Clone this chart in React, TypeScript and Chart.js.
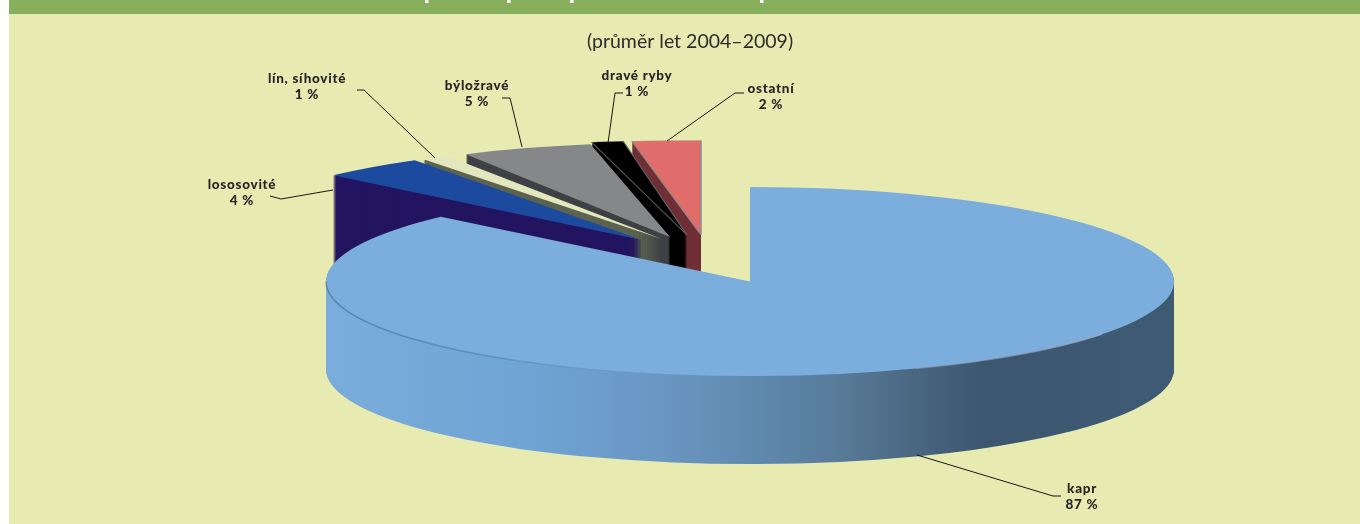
import React, { useEffect, useRef } from "react";
import { Chart, registerables } from "chart.js";

Chart.register(...registerables);

const categories = ["kapr", "lososovité", "lín, síhovité", "býložravé", "dravé ryby", "ostatní"];
const shares = [87, 4, 1, 5, 1, 2];
const subtitle = "(průměr let 2004–2009)";
const topColors = ["#7BAEDC", "#1C4A9F", "#E3E7BE", "#868789", "#000000", "#E06C6C"];
const sideColors = ["#7BAEDC", "#231560", "#5D6350", "#3F4145", "#000000", "#6F2F35"];

// projection of the pie: an ellipse, with its depth, and where each exploded slice's tip sits
const RX = 424;
const RY = 94.5;
const DEPTH = 88;
const CENTER = { x: 750, y: 281.5 };
const tips = [
  { x: 750, y: 281.5, sx: 1 },
  { x: 642, y: 240, sx: 1 },
  { x: 662, y: 239, sx: 1.05 },
  { x: 670, y: 237, sx: 1 },
  { x: 687, y: 235, sx: 1.2 },
  { x: 701, y: 235, sx: 1.3 },
];
const sideStops: [number, string][] = [
  [326, "#7AADDC"],
  [540, "#6FA3D3"],
  [653, "#6A97C4"],
  [764, "#5F88AC"],
  [848, "#567996"],
  [931, "#47627C"],
  [987, "#3C5670"],
  [1175, "#3F5B74"],
];
const labelPlaces = [
  { x: 1082, y: 489 },
  { x: 242, y: 185 },
  { x: 307, y: 79 },
  { x: 477, y: 86 },
  { x: 637, y: 76 },
  { x: 771, y: 89 },
];
const leaders = [
  [[917, 455], [1053, 496], [1061, 496]],
  [[270, 196], [281, 199], [333, 190]],
  [[357, 90], [364, 90], [435, 158]],
  [[502, 98], [510, 98], [522, 147]],
  [[623, 93], [615, 93], [608, 143]],
  [[744, 93], [735, 93], [667, 141]],
];
const clippedTitleMarks = [425, 507, 570, 760];

const pie3d = {
  id: "pie3d",
  beforeDatasetsDraw(chart: any) {
    const ctx = chart.ctx;
    const arcs = chart.getDatasetMeta(0).data;
    for (let i = arcs.length - 1; i >= 0; i--) {
      const arc = arcs[i];
      const tip = tips[i];
      const R = arc.outerRadius;
      const kx = (RX * tip.sx) / R;
      const ky = RY / R;
      const place = (dy: number) => {
        ctx.setTransform(kx, 0, 0, ky, tip.x - arc.x * kx, tip.y + dy - arc.y * ky);
      };
      const base = arc.options;
      let side: any = sideColors[i];
      if (i === 0) {
        const toLocal = (x: number) => (x - tip.x) / kx + arc.x;
        side = ctx.createLinearGradient(toLocal(326), 0, toLocal(1175), 0);
        sideStops.forEach(([x, c]) => side.addColorStop((x - 326) / (1175 - 326), c));
      }
      ctx.save();
      const sideOpts = Object.create(base);
      sideOpts.backgroundColor = side;
      sideOpts.borderWidth = 0;
      arc.options = sideOpts;
      for (let d = DEPTH; d >= 1; d--) {
        place(d);
        arc.draw(ctx);
      }
      arc.options = base;
      place(0);
      arc.draw(ctx);
      ctx.restore();
    }
    ctx.setTransform(1, 0, 0, 1, 0, 0);
    // faint seam where the top face meets the side at the left
    const seam = ctx.createLinearGradient(326, 0, 620, 0);
    seam.addColorStop(0, "rgba(50,80,110,0.45)");
    seam.addColorStop(0.5, "rgba(50,90,130,0.35)");
    seam.addColorStop(1, "rgba(50,90,130,0)");
    ctx.save();
    ctx.strokeStyle = seam;
    ctx.lineWidth = 1.5;
    ctx.beginPath();
    ctx.ellipse(CENTER.x, CENTER.y, RX, RY, 0, Math.PI, Math.PI * 0.58, true);
    ctx.stroke();
    // pale glint along the front edge on the right
    const glint = ctx.createLinearGradient(914, 0, 1103, 0);
    glint.addColorStop(0, "rgba(150,160,185,0.5)");
    glint.addColorStop(1, "rgba(170,170,190,0.8)");
    ctx.strokeStyle = glint;
    ctx.beginPath();
    ctx.ellipse(CENTER.x, CENTER.y, RX, RY, 0, (67 * Math.PI) / 180, (34 * Math.PI) / 180, true);
    ctx.stroke();
    ctx.restore();
    return false;
  },
  afterDraw(chart: any) {
    const ctx = chart.ctx;
    ctx.save();
    ctx.fillStyle = "#FFFFFF";
    clippedTitleMarks.forEach((x) => ctx.fillRect(x, 0, 3.5, 3));
    ctx.strokeStyle = "#161616";
    ctx.lineWidth = 1;
    leaders.forEach((pts) => {
      ctx.beginPath();
      pts.forEach(([x, y], k) => (k ? ctx.lineTo(x, y) : ctx.moveTo(x, y)));
      ctx.stroke();
    });
    ctx.fillStyle = "#262626";
    ctx.font = "900 13.5px Lato";
    ctx.textAlign = "center";
    ctx.textBaseline = "middle";
    if ("letterSpacing" in ctx) ctx.letterSpacing = "0.7px";
    categories.forEach((name, i) => {
      const p = labelPlaces[i];
      ctx.fillText(name, p.x, p.y);
      ctx.fillText(`${shares[i]} %`, p.x, p.y + 16);
    });
    ctx.restore();
  },
};

export default function App() {
  const ref = useRef<HTMLCanvasElement>(null);
  useEffect(() => {
    const chart = new Chart(ref.current!, {
      type: "pie",
      data: {
        labels: categories,
        datasets: [
          {
            data: shares,
            backgroundColor: topColors,
            borderWidth: [0, 0, 0, 0, 0.6, 0.6],
            borderColor: ["#7BAEDC", "#1C4A9F", "#E3E7BE", "#868789", "#666666", "#8A8A8A"],
          },
        ],
      },
      options: {
        responsive: false,
        animation: false,
        rotation: 0,
        layout: { padding: { left: 20 } },
        plugins: {
          legend: { display: false },
          tooltip: { enabled: false },
          title: {
            display: true,
            text: subtitle,
            fullSize: false,
            color: "#2B2B2B",
            font: { family: "Lato", size: 19.5, weight: "normal" },
            padding: { top: 30, bottom: 10 },
          },
        },
      },
      plugins: [pie3d],
    } as any);
    return () => chart.destroy();
  }, []);
  return (
    <div style={{ position: "relative", width: 1360, height: 524, overflow: "hidden", background: "#FFFFFF" }}>
      <style>{"html,body{margin:0;padding:0;background:#fff}"}</style>
      <div style={{ position: "absolute", left: 9, right: 0, top: 0, bottom: 0, background: "#E8EBB1" }} />
      <div style={{ position: "absolute", left: 9, right: 0, top: 0, height: 14, background: "#88AF5C" }} />
      <canvas ref={ref} width={1360} height={524} style={{ position: "absolute", left: 0, top: 0, display: "block" }} />
    </div>
  );
}
